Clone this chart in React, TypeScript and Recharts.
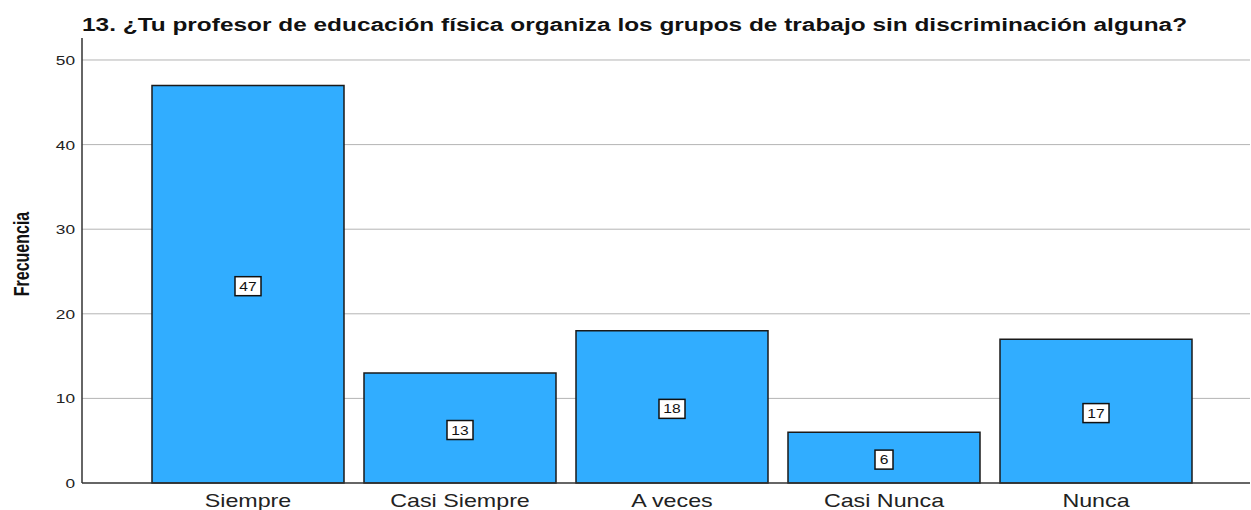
import React from "react";
import { BarChart, Bar, XAxis, YAxis, CartesianGrid, LabelList } from "recharts";

const categories = ["Siempre", "Casi Siempre", "A veces", "Casi Nunca", "Nunca"];
const frecuencias = [47, 13, 18, 6, 17];
const yTicks = [0, 10, 20, 30, 40, 50];
const title = "13. ¿Tu profesor de educación física organiza los grupos de trabajo sin discriminación alguna?";
const yLabel = "Frecuencia";

const data = categories.map((c, i) => ({ name: c, value: frecuencias[i] }));

const FONT = "Liberation Sans, Arial, sans-serif";
const SX = 1.33;

const ValueLabel = (props: any) => {
  const { x, y, width, height, value } = props;
  const cx = x + width / 2;
  const cy = y + height / 2 + 2;
  const txt = String(value);
  const w = txt.length * 8 + 10;
  const h = 19;
  return (
    <g>
      <rect x={cx - w / 2} y={cy - h / 2} width={w} height={h} fill="#fff" stroke="#111" strokeWidth={1.5} />
      <text
        transform={`translate(${cx},${cy + 4.5}) scale(1.25,1)`}
        textAnchor="middle"
        fontSize={12.5}
        fontFamily={FONT}
        fill="#111"
      >
        {txt}
      </text>
    </g>
  );
};

const XTick = (props: any) => {
  const { x, y, payload } = props;
  return (
    <text
      transform={`translate(${x},${y + 16}) scale(${SX},1)`}
      textAnchor="middle"
      fontSize={17.5}
      fontFamily={FONT}
      fill="#222"
    >
      {payload.value}
    </text>
  );
};

const YTick = (props: any) => {
  const { y, payload } = props;
  return (
    <text
      transform={`translate(75,${y + 5}) scale(${SX},1)`}
      textAnchor="end"
      fontSize={13}
      fontFamily={FONT}
      fill="#222"
    >
      {payload.value}
    </text>
  );
};

export default function App() {
  return (
    <div style={{ position: "absolute", left: 0, top: 0, width: 1251, height: 510, background: "#fff" }}>
      <BarChart width={1251} height={510} data={data} margin={{ top: 38, right: 1, bottom: 0, left: 0 }} barCategoryGap={10}>
        <CartesianGrid vertical={false} stroke="#b4b4b4" horizontalValues={[10, 20, 30, 40, 50]} />
        <XAxis
          dataKey="name"
          height={27}
          padding={{ left: 60, right: 48 }}
          tickLine={false}
          axisLine={{ stroke: "#333", strokeWidth: 1.5 }}
          tick={<XTick />}
          interval={0}
        />
        <YAxis
          width={82}
          domain={[0, 52.6]}
          ticks={yTicks}
          tickLine={false}
          axisLine={{ stroke: "#333", strokeWidth: 1.5 }}
          tick={<YTick />}
        />
        <Bar dataKey="value" fill="#31adff" stroke="#1a1a1a" strokeWidth={1.5} isAnimationActive={false}>
          <LabelList dataKey="value" content={<ValueLabel />} />
        </Bar>
      </BarChart>
      <svg width={1251} height={510} style={{ position: "absolute", left: 0, top: 0, pointerEvents: "none" }}>
        <text
          transform={`translate(82,30.5) scale(1.32,1)`}
          fontSize={18.5}
          fontWeight="bold"
          fontFamily={FONT}
          fill="#111"
        >
          {title}
        </text>
        <text
          transform={`translate(29,254) scale(1.35,1) rotate(-90)`}
          textAnchor="middle"
          fontSize={16}
          fontWeight="bold"
          fontFamily={FONT}
          fill="#111"
        >
          {yLabel}
        </text>
      </svg>
    </div>
  );
}
